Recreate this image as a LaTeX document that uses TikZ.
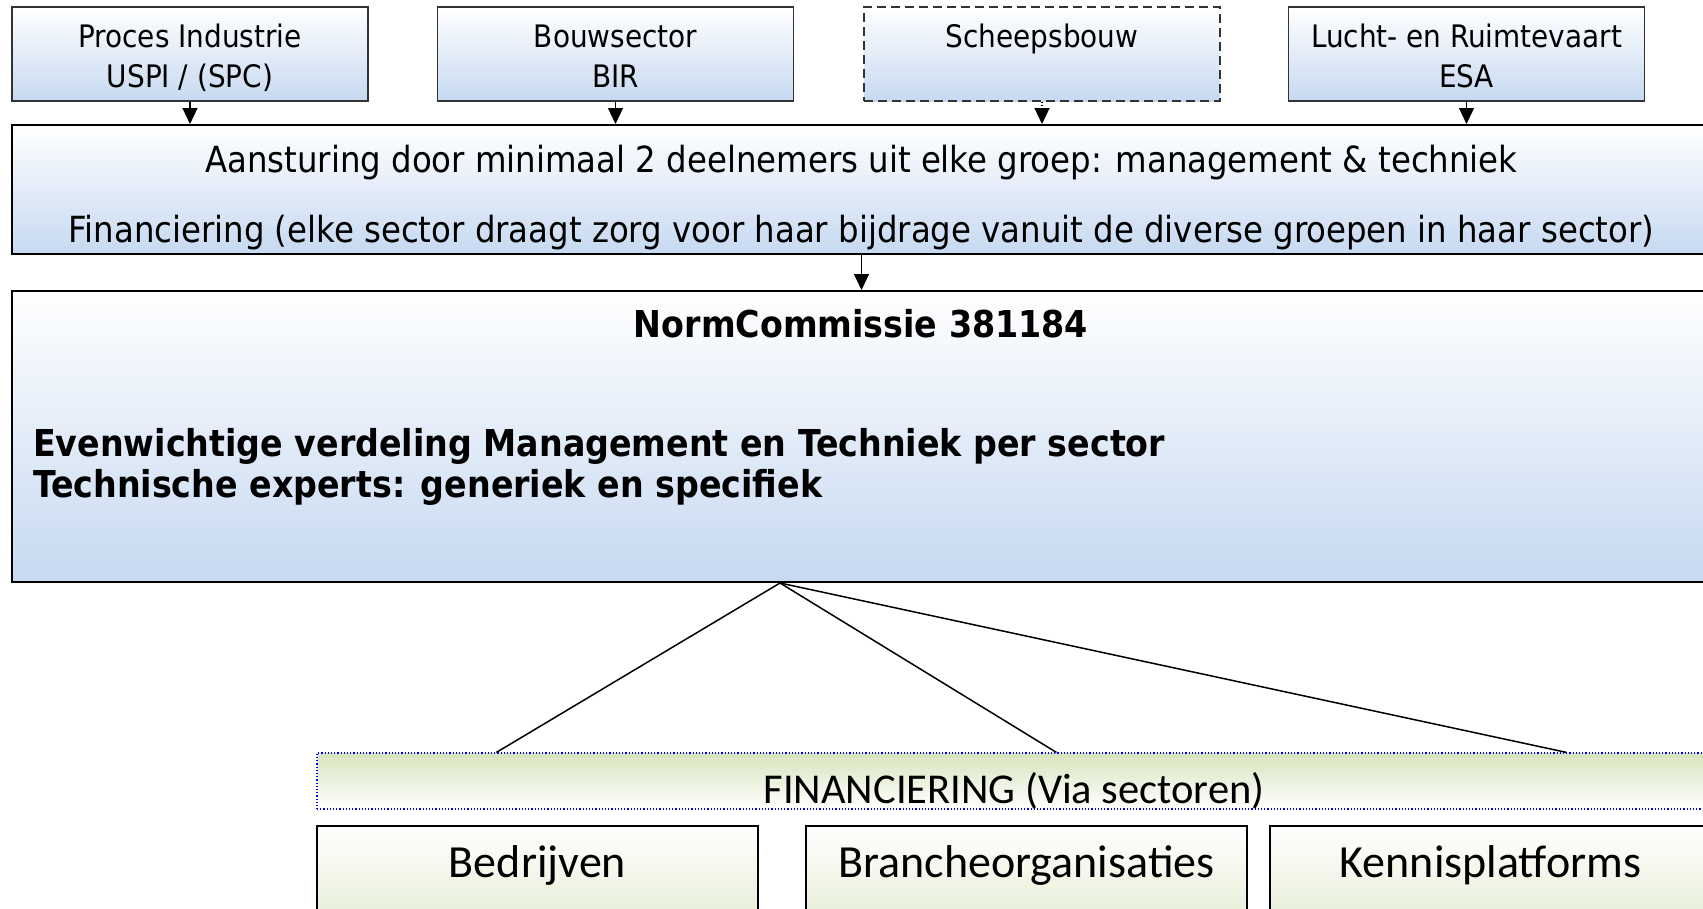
\documentclass[tikz,border=0pt]{standalone}
\usepackage{fontspec}
\usetikzlibrary{arrows.meta}
\newfontfamily\tahoma{DejaVu Sans Condensed}
\newfontfamily\calibri{Carlito}
\definecolor{blauw}{RGB}{198,217,241}
\definecolor{groen}{RGB}{215,228,189}

\begin{document}
\begin{tikzpicture}[x=1pt,y=-1pt,
 box/.style={draw,inner sep=0pt,align=center,top color=white,bottom color=blauw},
 sector/.style={box,draw=black!80,line width=1.5pt,minimum width=356pt,minimum height=94pt,
   font=\tahoma\fontsize{31}{40}\selectfont,text height=80pt,text depth=14pt},
 groot/.style={box,line width=2pt,minimum width=1699pt},
 onder/.style={draw,line width=2pt,inner sep=0pt,minimum width=441pt,minimum height=150pt,
   top color=white,middle color=groen,bottom color=groen,
   font=\calibri\fontsize{46}{46}\selectfont,text height=51pt,text depth=99pt},
 pijl/.style={-{Triangle[length=16pt,width=15pt]},line width=1.2pt},
 tak/.style={line width=1.5pt},
 ]
 \useasboundingbox (0,0) rectangle (1703,908);
 \clip (0,0) rectangle (1703,908);

 %Sectoren
 \node[sector] (proces) at (190,54) {Proces Industrie\\USPI / (SPC)};
 \node[sector] (bouw) at (615.5,54) {Bouwsector\\BIR};
 \node[sector,dash pattern=on 9pt off 5pt,text height=40pt,text depth=54pt] (schip) at (1042,54) {Scheepsbouw};
 \node[sector] (lucht) at (1466.5,54) {Lucht- en Ruimtevaart\\ESA};

 \node[groot,minimum height=129pt,font=\tahoma\fontsize{36}{70}\selectfont,
   text height=117pt,text depth=12pt] (stuur) at (861.5,189.5)
   {Aansturing door minimaal 2 deelnemers uit elke groep: management \& techniek\\
    Financiering (elke sector draagt zorg voor haar bijdrage vanuit de diverse groepen in haar sector)};

 \foreach \s in {proces,bouw,lucht}
   \draw[pijl] (\s.south) -- (\s.south |- stuur.north);
 \draw[pijl,dotted] (schip.south) -- (schip.south |- stuur.north);

 %Commissie
 \node[groot,minimum height=291pt] (norm) at (861.5,436.5) {};
 \node[font=\tahoma\bfseries\fontsize{37}{38}\selectfont,anchor=base,inner sep=0pt]
   (normtitel) at (861,337) {NormCommissie 381184};
 \node[font=\tahoma\bfseries\fontsize{37}{41}\selectfont,anchor=base west,align=left,inner sep=0pt]
   (normtekst) at (33,497) {Evenwichtige verdeling Management en Techniek per sector\\
    Technische experts: generiek en specifiek};
 \draw[pijl] (stuur) -- (norm);

 %Financiering
 \node[draw=blue,dotted,line width=1.2pt,inner sep=0pt,minimum width=1394pt,minimum height=56pt,
   top color=groen,bottom color=white,font=\calibri\fontsize{42.5}{42.5}\selectfont,
   text height=50pt,text depth=6pt] (fin) at (1014,781) {FINANCIERING (Via sectoren)};

 \coordinate (hub) at ([xshift=-81.5pt]norm.south);
 \coordinate (f1) at ([xshift=180pt]fin.north west);
 \coordinate (f2) at ([xshift=740pt]fin.north west);
 \coordinate (f3) at ([xshift=1250pt]fin.north west);
 \foreach \f in {f1,f2,f3}
   \draw[tak] (hub) -- (\f);

 \node[onder] (bedrijf) at (537.5,901) {Bedrijven};
 \node[onder] (branche) at (1026.5,901) {Brancheorganisaties};
 \node[onder] (kennis) at (1490.5,901) {Kennisplatforms};
\end{tikzpicture}
\end{document}
